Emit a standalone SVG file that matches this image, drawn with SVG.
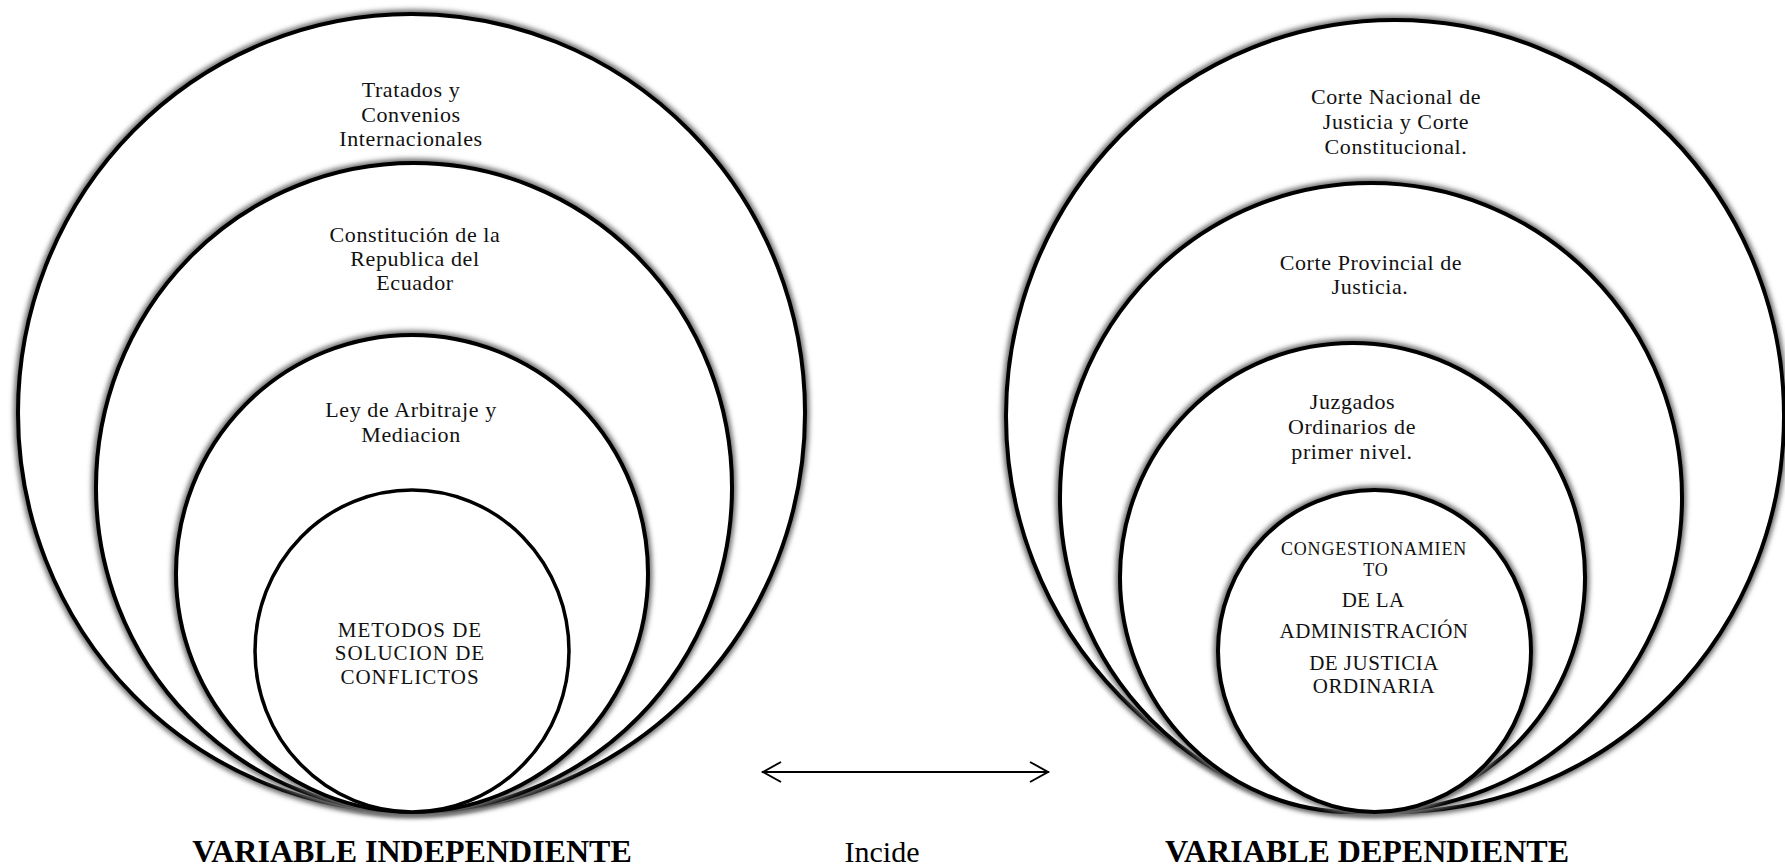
<svg xmlns="http://www.w3.org/2000/svg" width="1785" height="867" viewBox="0 0 1785 867">
<defs>
<style>
.glow{fill:none;stroke:#6e6e6e;stroke-width:9;filter:url(#blur)}
.ring{fill:#fff;stroke:#000;stroke-width:4}
.t{font-family:"Liberation Serif","Times New Roman",serif;font-size:22px;text-anchor:middle;fill:#111;letter-spacing:0.6px}
.cap{font-family:"Liberation Serif","Times New Roman",serif;font-size:21px;text-anchor:middle;fill:#111;letter-spacing:1px}
.lbl{font-family:"Liberation Serif","Times New Roman",serif;font-size:32px;font-weight:bold;text-anchor:middle;fill:#000}
.inc{font-family:"Liberation Serif","Times New Roman",serif;font-size:30px;text-anchor:middle;fill:#000}
.conn{fill:none;stroke:#000;stroke-width:2}
</style>
<filter id="blur" x="-10%" y="-10%" width="120%" height="120%"><feGaussianBlur stdDeviation="2.5"/></filter>
</defs>
<rect width="1785" height="867" fill="#fff"/>

<g id="tratados">
<ellipse class="glow" cx="411.5" cy="413" rx="393.5" ry="399"/>
<ellipse class="ring" cx="411.5" cy="413" rx="393.5" ry="399"/>
<text class="t" x="411" y="97">Tratados y</text>
<text class="t" x="411" y="121.5">Convenios</text>
<text class="t" x="411" y="146">Internacionales</text>
</g>
<g id="constitucion">
<ellipse class="glow" cx="414" cy="487.5" rx="318" ry="324.5"/>
<ellipse class="ring" cx="414" cy="487.5" rx="318" ry="324.5"/>
<text class="t" x="415" y="241.5">Constitución de la</text>
<text class="t" x="415" y="265.5">Republica del</text>
<text class="t" x="415" y="290">Ecuador</text>
</g>
<g id="ley">
<ellipse class="glow" cx="412" cy="573.5" rx="236" ry="238.5"/>
<ellipse class="ring" cx="412" cy="573.5" rx="236" ry="238.5"/>
<text class="t" x="411" y="417">Ley de Arbitraje y</text>
<text class="t" x="411" y="441.5">Mediacion</text>
</g>
<g id="metodos">
<ellipse class="ring" cx="412" cy="651" rx="157" ry="161" style="stroke-width:3.5px"/>
<text class="cap" x="410" y="636.5">METODOS DE</text>
<text class="cap" x="410" y="660">SOLUCION DE</text>
<text class="cap" x="410" y="683.5">CONFLICTOS</text>
</g>

<g id="corte-nacional">
<ellipse class="glow" cx="1395" cy="416" rx="389" ry="396"/>
<ellipse class="ring" cx="1395" cy="416" rx="389" ry="396"/>
<text class="t" x="1396" y="103.5">Corte Nacional de</text>
<text class="t" x="1396" y="128.5">Justicia y Corte</text>
<text class="t" x="1396" y="153.5">Constitucional.</text>
</g>
<g id="corte-provincial">
<ellipse class="glow" cx="1371" cy="497.5" rx="311" ry="314.5"/>
<ellipse class="ring" cx="1371" cy="497.5" rx="311" ry="314.5"/>
<text class="t" x="1371" y="270">Corte Provincial de</text>
<text class="t" x="1370" y="293.5">Justicia.</text>
</g>
<g id="juzgados">
<ellipse class="glow" cx="1352.5" cy="577.5" rx="232.5" ry="234.5"/>
<ellipse class="ring" cx="1352.5" cy="577.5" rx="232.5" ry="234.5"/>
<text class="t" x="1352.5" y="408.5">Juzgados</text>
<text class="t" x="1352" y="433.5">Ordinarios de</text>
<text class="t" x="1352" y="458.5">primer nivel.</text>
</g>
<g id="congestionamiento">
<ellipse class="glow" cx="1374.5" cy="651" rx="156.5" ry="161"/>
<ellipse class="ring" cx="1374.5" cy="651" rx="156.5" ry="161"/>
<text class="cap" x="1374" y="555" style="font-size:18px;letter-spacing:0.8px">CONGESTIONAMIEN</text>
<text class="cap" x="1376" y="576" style="font-size:18px;letter-spacing:0.8px">TO</text>
<text class="cap" x="1373" y="607" style="letter-spacing:0.3px">DE LA</text>
<text class="cap" x="1374" y="638" style="letter-spacing:0.4px">ADMINISTRACIÓN</text>
<text class="cap" x="1374" y="670" style="letter-spacing:0.5px">DE JUSTICIA</text>
<text class="cap" x="1374" y="692.5" style="letter-spacing:0.5px">ORDINARIA</text>
</g>

<g id="connectors">
<line class="conn" x1="762" y1="772" x2="1049" y2="772"/>
<polyline class="conn" points="781,762 763,772 781,782"/>
<polyline class="conn" points="1030,762 1048,772 1030,782"/>
</g>

<g id="labels">
<text class="lbl" x="412" y="862">VARIABLE INDEPENDIENTE</text>
<text class="inc" x="882" y="862">Incide</text>
<text class="lbl" x="1367" y="862">VARIABLE DEPENDIENTE</text>
</g>
</svg>
